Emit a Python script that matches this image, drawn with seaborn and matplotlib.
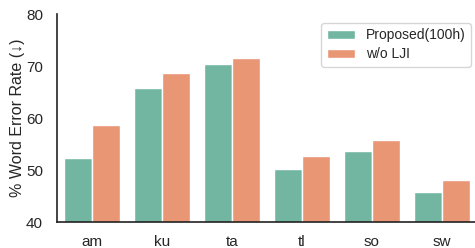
import matplotlib
matplotlib.use("Agg")
import matplotlib.pyplot as plt
import seaborn as sns
import pandas as pd

languages = ["am", "ku", "ta", "tl", "so", "sw"]
proposed = [52.3, 65.8, 70.4, 50.2, 53.6, 45.7]
wo_lji = [58.7, 68.7, 71.6, 52.6, 55.7, 48.1]
series_names = ["Proposed(100h)", "w/o LJI"]

df = pd.DataFrame({
    "lang": languages * 2,
    "wer": proposed + wo_lji,
    "system": [series_names[0]] * len(languages) + [series_names[1]] * len(languages),
})

sns.set_theme(style="white", palette="Set2")
plt.rcParams["font.family"] = ["Liberation Sans", "DejaVu Sans"]

fig = plt.figure(figsize=(4.75, 2.48), dpi=100)
ax = fig.add_axes([57 / 475, 26 / 248, 420 / 475, 208 / 248])
sns.barplot(data=df, x="lang", y="wer", hue="system", palette="Set2", ax=ax)
ax.set_ylim(40, 80)
ax.set_yticks([40, 50, 60, 70, 80])
ax.set_xlabel("")
ax.set_ylabel("% Word Error Rate (↓)", fontsize=11.5, labelpad=1)
ax.tick_params(axis="y", labelsize=11, length=0, pad=10)
ax.tick_params(axis="x", labelsize=11, length=0, pad=9)
sns.despine(ax=ax)
for s in ["left", "bottom"]:
    ax.spines[s].set_color("#222222")
    ax.spines[s].set_linewidth(1.2)
leg = ax.legend(loc="upper right", fontsize=10, frameon=True,
                bbox_to_anchor=(0.986, 0.957), borderaxespad=0,
                handlelength=2.0, labelspacing=0.35)
leg.set_title(None)
fig.savefig("out.png", dpi=100)
